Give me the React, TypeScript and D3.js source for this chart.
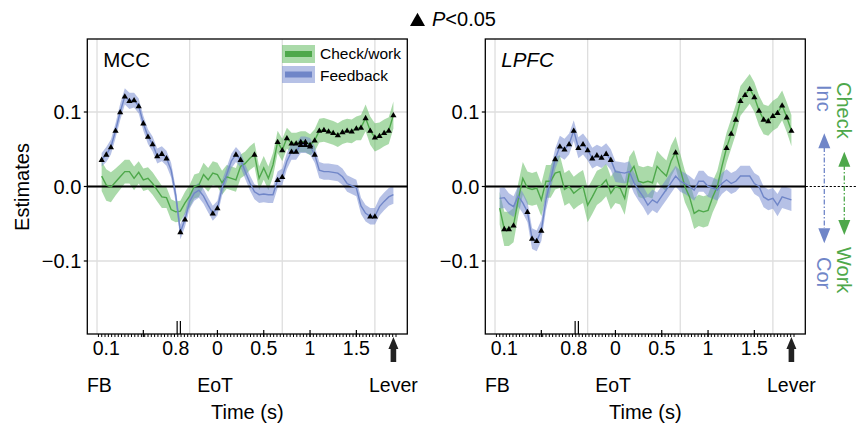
import * as d3 from 'd3'

const W = 856
const H = 428
const BOX = { left: 87.3, right: 407.3, top: 39, bottom: 334 }
const PANEL_DX = 398
const FONT = '"Liberation Sans", Arial, Helvetica, sans-serif'

const GREEN = '#4ea84b'
const GREEN_BAND = '#5cb85a'
const BLUE = '#7086c8'
const BLUE_BAND = '#7389cf'

// MCC, check/work regressor (mean and SE per time bin)
const mccCheck = [
  0.014, 0.002, -0.001, 0.006, 0.013, 0.020, 0.020, 0.011, 0.019, 0.009,
  0.011, 0.004, -0.005, -0.014, -0.015, -0.031, -0.034, -0.033, -0.022, -0.013,
  0.000, 0.002, 0.016, 0.009, 0.018, 0.016, 0.005, 0.013, 0.011, 0.009,
  0.027, 0.031, 0.038, 0.043, 0.011, 0.025, 0.011, 0.029, 0.060, 0.049,
  0.065, 0.058, 0.058, 0.060, 0.060, 0.056, 0.062, 0.075, 0.076, 0.074,
  0.072, 0.069, 0.073, 0.075, 0.074, 0.078, 0.079, 0.092, 0.075, 0.066,
  0.068, 0.072, 0.075, 0.096,
]
const mccCheckSe = [
  0.020, 0.021, 0.020, 0.018, 0.017, 0.016, 0.016, 0.016, 0.015, 0.015,
  0.015, 0.015, 0.015, 0.015, 0.014, 0.014, 0.014, 0.014, 0.015, 0.015,
  0.016, 0.016, 0.016, 0.016, 0.016, 0.016, 0.016, 0.016, 0.016, 0.016,
  0.016, 0.016, 0.016, 0.016, 0.016, 0.016, 0.016, 0.016, 0.015, 0.015,
  0.014, 0.014, 0.014, 0.014, 0.014, 0.014, 0.015, 0.016, 0.016, 0.016,
  0.016, 0.016, 0.016, 0.016, 0.016, 0.016, 0.017, 0.018, 0.019, 0.019,
  0.018, 0.018, 0.018, 0.018,
]
const mccCheckSig = [
  33, 38, 39, 40, 41, 42, 43, 44, 45, 46, 47, 48, 49, 50, 51, 52, 53, 54, 55,
  56, 57, 58, 59, 60, 61, 62, 63,
]

// MCC, feedback regressor
const mccFeedback = [
  0.036, 0.043, 0.053, 0.075, 0.100, 0.121, 0.115, 0.116, 0.108, 0.085,
  0.067, 0.057, 0.041, 0.044, 0.038, 0.022, -0.012, -0.061, -0.044, -0.020,
  -0.009, -0.005, -0.013, -0.025, -0.036, -0.029, -0.002, 0.016, 0.034, 0.043,
  0.036, 0.020, 0.005, -0.007, -0.011, -0.010, -0.011, -0.011, 0.009, 0.013,
  0.034, 0.047, 0.047, 0.056, 0.056, 0.054, 0.043, 0.022, 0.020, 0.020,
  0.019, 0.018, 0.013, 0.004, 0.001, -0.002, -0.026, -0.036, -0.040, -0.040,
  -0.027, -0.020, -0.014, -0.011,
]
const mccFeedbackSe = [
  0.009, 0.010, 0.010, 0.010, 0.011, 0.011, 0.011, 0.010, 0.010, 0.010,
  0.010, 0.010, 0.010, 0.010, 0.010, 0.010, 0.010, 0.010, 0.010, 0.010,
  0.010, 0.010, 0.010, 0.010, 0.010, 0.010, 0.010, 0.010, 0.010, 0.010,
  0.010, 0.010, 0.010, 0.010, 0.011, 0.011, 0.011, 0.011, 0.011, 0.011,
  0.011, 0.011, 0.011, 0.011, 0.011, 0.011, 0.011, 0.011, 0.011, 0.011,
  0.011, 0.011, 0.011, 0.011, 0.011, 0.011, 0.011, 0.011, 0.011, 0.011,
  0.012, 0.012, 0.012, 0.012,
]
const mccFeedbackSig = [
  0, 1, 2, 3, 4, 5, 6, 7, 8, 9, 10, 11, 12, 13, 14, 17, 18, 24, 25, 29, 30,
  38, 39, 41, 42, 43, 44, 45, 46, 58, 59,
]

// LPFC, check/work regressor
const lpfcCheck = [
  -0.029, -0.057, -0.057, -0.052, -0.018, 0.011, -0.002, -0.004, -0.002, -0.018,
  0.007, 0.007, 0.018, 0.020, -0.004, 0.000, -0.009, -0.004, 0.000, -0.025,
  -0.014, -0.002, 0.002, 0.009, -0.009, 0.000, -0.002, -0.016, 0.018, 0.027,
  0.007, 0.005, 0.007, 0.005, 0.027, 0.020, 0.014, 0.034, 0.046, 0.023,
  0.000, -0.014, -0.036, -0.032, -0.034, -0.032, -0.014, 0.000, 0.027, 0.052,
  0.071, 0.090, 0.115, 0.123, 0.131, 0.120, 0.102, 0.090, 0.088, 0.095,
  0.099, 0.109, 0.093, 0.075,
]
const lpfcCheckSe = [
  0.022, 0.023, 0.023, 0.023, 0.022, 0.022, 0.022, 0.022, 0.022, 0.022,
  0.022, 0.022, 0.022, 0.022, 0.022, 0.022, 0.022, 0.022, 0.022, 0.023,
  0.023, 0.023, 0.022, 0.022, 0.022, 0.022, 0.022, 0.022, 0.022, 0.022,
  0.021, 0.021, 0.021, 0.021, 0.021, 0.021, 0.021, 0.021, 0.021, 0.021,
  0.021, 0.021, 0.021, 0.021, 0.021, 0.021, 0.021, 0.021, 0.020, 0.020,
  0.020, 0.020, 0.020, 0.020, 0.020, 0.020, 0.020, 0.020, 0.020, 0.020,
  0.020, 0.020, 0.020, 0.021,
]
const lpfcCheckSig = [
  1, 2, 3, 38, 49, 50, 51, 52, 53, 54, 55, 56, 57, 58, 59, 60, 61, 62, 63,
]

// LPFC, feedback regressor
const lpfcFeedback = [
  -0.016, -0.015, -0.023, -0.027, -0.013, -0.022, -0.034, -0.070, -0.073, -0.059,
  -0.018, 0.009, 0.037, 0.054, 0.050, 0.057, 0.075, 0.052, 0.057, 0.049,
  0.038, 0.042, 0.039, 0.044, 0.036, 0.020, 0.019, 0.018, 0.020, 0.005,
  -0.005, -0.014, -0.025, -0.018, -0.022, -0.013, -0.004, 0.005, 0.014, 0.007,
  0.004, 0.000, -0.005, 0.007, 0.007, 0.000, -0.002, -0.005, 0.004, 0.009,
  0.004, 0.007, 0.014, 0.014, 0.014, 0.004, 0.000, -0.014, -0.018, -0.016,
  -0.025, -0.014, -0.016, -0.018,
]
const lpfcFeedbackSe = [
  0.014, 0.014, 0.014, 0.014, 0.014, 0.014, 0.014, 0.014, 0.014, 0.014,
  0.014, 0.014, 0.014, 0.014, 0.014, 0.014, 0.014, 0.014, 0.014, 0.014,
  0.014, 0.014, 0.014, 0.014, 0.014, 0.014, 0.014, 0.014, 0.014, 0.014,
  0.014, 0.014, 0.014, 0.014, 0.014, 0.014, 0.014, 0.014, 0.014, 0.014,
  0.014, 0.014, 0.014, 0.014, 0.014, 0.014, 0.014, 0.014, 0.014, 0.014,
  0.014, 0.014, 0.014, 0.014, 0.014, 0.014, 0.014, 0.014, 0.014, 0.014,
  0.015, 0.015, 0.015, 0.015,
]
const lpfcFeedbackSig = [
  6, 7, 8, 9, 12, 13, 14, 15, 16, 17, 18, 19, 20, 21, 22, 23, 24,
]

// x axis is in time-bin units (FB-aligned bins spliced to EoT-aligned bins)
const X_DOMAIN = [-3.1, 66]
const Y_DOMAIN = [-0.198, 0.198]
const xTickLabels = ['0.1', '0.8', '0', '0.5', '1', '1.5']
const xTickLabelBins = [1, 16, 25, 35, 45, 55]
const xMajorBins = [9, 25, 35, 45, 55]
const xBreakBins = [16.3, 17]
const xGridBins = [-1, 19, 39, 59]
const leverBin = 63
const eventLabels = ['FB', 'EoT', 'Lever']
const eventBins = [-0.5, 24.5, 63]
const yTicks = [0.1, 0, -0.1]
const yTickLabels = ['0.1', '0.0', '\u22120.1']

type Series = { mean: number[]; se: number[]; sig: number[] }

const TRI = 'M0,-3.1L3.1,2.2L-3.1,2.2Z'
const LABEL_SIZE = 19.5

function Panel({
  dx,
  title,
  italic,
  check,
  feedback,
  legend,
}: {
  dx: number
  title: string
  italic: boolean
  check: Series
  feedback: Series
  legend: boolean
}) {
  const x = d3.scaleLinear().domain(X_DOMAIN).range([BOX.left + dx, BOX.right + dx])
  const y = d3.scaleLinear().domain(Y_DOMAIN).range([BOX.bottom, BOX.top])

  const band = (s: Series) =>
    d3
      .area<number>()
      .x((_, i) => x(i))
      .y0((m, i) => y(m - s.se[i]))
      .y1((m, i) => y(m + s.se[i]))(s.mean) || ''
  const line = d3
    .line<number>()
    .x((_, i) => x(i))
    .y((m) => y(m))

  const minor = d3.range(-0.7, 63.7, 0.714)
  const x0 = BOX.left + dx
  const x1 = BOX.right + dx

  return (
    <g>
      {/* grid */}
      {xGridBins.map((b) => (
        <line key={'gx' + b} x1={x(b)} x2={x(b)} y1={BOX.top} y2={BOX.bottom} stroke="#dedede" strokeWidth={1.3} />
      ))}
      {yTicks.map((t) => (
        <line key={'gy' + t} x1={x0} x2={x1} y1={y(t)} y2={y(t)} stroke="#dedede" strokeWidth={1.3} />
      ))}

      {/* bands */}
      <path d={band(check)} fill={GREEN_BAND} fillOpacity={0.52} />
      <path d={band(feedback)} fill={BLUE_BAND} fillOpacity={0.52} />

      {/* zero line */}
      <line x1={x0} x2={x1} y1={y(0)} y2={y(0)} stroke="#000" strokeWidth={2} />

      {/* means */}
      <path d={line(check.mean) || ''} fill="none" stroke={GREEN} strokeWidth={1.4} />
      <path d={line(feedback.mean) || ''} fill="none" stroke={BLUE} strokeWidth={1.4} />

      {/* significance markers */}
      {check.sig.map((i) => (
        <path key={'cs' + i} d={TRI} transform={`translate(${x(i)},${y(check.mean[i])})`} fill="#000" />
      ))}
      {feedback.sig.map((i) => (
        <path key={'fs' + i} d={TRI} transform={`translate(${x(i)},${y(feedback.mean[i])})`} fill="#000" />
      ))}

      {/* frame */}
      <rect x={x0} y={BOX.top} width={x1 - x0} height={BOX.bottom - BOX.top} fill="none" stroke="#000" strokeWidth={1.3} />

      {/* y axis */}
      {yTicks.map((t, k) => (
        <g key={'yt' + t}>
          <line x1={x0 - 3.5} x2={x0} y1={y(t)} y2={y(t)} stroke="#000" strokeWidth={1.2} />
          <text x={x0 - 6} y={y(t)} dy="0.36em" textAnchor="end" fontSize={LABEL_SIZE + 0.5}>
            {yTickLabels[k]}
          </text>
        </g>
      ))}

      {/* x axis ticks */}
      {minor.map((b) => (
        <line key={'mn' + b} x1={x(b)} x2={x(b)} y1={BOX.bottom} y2={BOX.bottom + 3} stroke="#000" strokeWidth={1} />
      ))}
      {xMajorBins.map((b) => (
        <line key={'mj' + b} x1={x(b)} x2={x(b)} y1={BOX.bottom - 4} y2={BOX.bottom + 3} stroke="#000" strokeWidth={1.2} />
      ))}
      {xBreakBins.map((b) => (
        <line key={'br' + b} x1={x(b)} x2={x(b)} y1={BOX.bottom - 13} y2={BOX.bottom} stroke="#000" strokeWidth={1.2} />
      ))}
      {xTickLabels.map((l, k) => (
        <text key={'xl' + l} x={x(xTickLabelBins[k])} y={355} textAnchor="middle" fontSize={LABEL_SIZE}>
          {l}
        </text>
      ))}

      {/* lever arrow */}
      <path d={`M${x(leverBin)},${BOX.bottom + 3}l5,12h-2.2v13h-5.6v-13h-2.2Z`} fill="#222" />

      {/* event labels */}
      {eventLabels.map((l, k) => (
        <text key={'ev' + l} x={x(eventBins[k])} y={392} textAnchor="middle" fontSize={LABEL_SIZE}>
          {l}
        </text>
      ))}
      <text x={(x0 + x1) / 2} y={419} textAnchor="middle" fontSize={20}>
        Time (s)
      </text>

      {/* panel title */}
      <text x={x0 + 16} y={67} fontSize={20.5} fontStyle={italic ? 'italic' : 'normal'}>
        {title}
      </text>

      {legend && (
        <g>
          <rect x={282} y={45} width={33} height={18} fill={GREEN_BAND} fillOpacity={0.52} />
          <rect x={285} y={51} width={27} height={6} fill={GREEN} />
          <rect x={282} y={66} width={33} height={17} fill={BLUE_BAND} fillOpacity={0.52} />
          <rect x={285} y={71.5} width={27} height={6} fill={BLUE} />
          <text x={320} y={59} fontSize={15.5}>
            Check/work
          </text>
          <text x={320} y={80.5} fontSize={15.5}>
            Feedback
          </text>
        </g>
      )}
    </g>
  )
}

function SideKey({ y0 }: { y0: number }) {
  const bx = 824.3
  const gx = 844.3
  return (
    <g>
      <line x1={805.7} x2={856} y1={y0} y2={y0} stroke="#000" strokeWidth={1} strokeDasharray="2.2,1.8" />
      {/* blue arrow: Inc / Cor */}
      <line x1={bx} x2={bx} y1={147} y2={228} stroke={BLUE} strokeWidth={1.3} strokeDasharray="5,2,1.5,2" />
      <path d={`M${bx},133.3l6,15h-12Z`} fill={BLUE} />
      <path d={`M${bx},243.3l6,-15h-12Z`} fill={BLUE} />
      {/* green arrow: Check / Work */}
      <line x1={gx} x2={gx} y1={165} y2={220} stroke={GREEN} strokeWidth={1.3} strokeDasharray="5,2,1.5,2" />
      <path d={`M${gx},151.7l6,15h-12Z`} fill={GREEN} />
      <path d={`M${gx},235l6,-15h-12Z`} fill={GREEN} />
      <text transform={`translate(${bx - 7.5},85) rotate(90)`} fontSize={20} fill={BLUE}>
        Inc
      </text>
      <text transform={`translate(${bx - 7.5},257) rotate(90)`} fontSize={20} fill={BLUE}>
        Cor
      </text>
      <text transform={`translate(${gx - 7.5},82) rotate(90)`} fontSize={20} fill={GREEN}>
        Check
      </text>
      <text transform={`translate(${gx - 7.5},247) rotate(90)`} fontSize={20} fill={GREEN}>
        Work
      </text>
    </g>
  )
}

export default function App() {
  const y = d3.scaleLinear().domain(Y_DOMAIN).range([BOX.bottom, BOX.top])
  return (
    <svg
      width={W}
      height={H}
      viewBox={`0 0 ${W} ${H}`}
      style={{ position: 'absolute', left: 0, top: 0, background: '#fff' }}
      fontFamily={FONT}
    >
      <rect width={W} height={H} fill="#fff" />
      {/* significance key */}
      <path d="M417.5,12.7L425,26H410Z" fill="#000" />
      <text x={432} y={26} fontSize={20}>
        <tspan fontStyle="italic">P</tspan>&lt;0.05
      </text>

      <text transform={`translate(29,187) rotate(-90)`} textAnchor="middle" fontSize={20}>
        Estimates
      </text>

      <Panel
        dx={0}
        title="MCC"
        italic={false}
        check={{ mean: mccCheck, se: mccCheckSe, sig: mccCheckSig }}
        feedback={{ mean: mccFeedback, se: mccFeedbackSe, sig: mccFeedbackSig }}
        legend
      />
      <Panel
        dx={PANEL_DX}
        title="LPFC"
        italic
        check={{ mean: lpfcCheck, se: lpfcCheckSe, sig: lpfcCheckSig }}
        feedback={{ mean: lpfcFeedback, se: lpfcFeedbackSe, sig: lpfcFeedbackSig }}
        legend={false}
      />
      <SideKey y0={y(0)} />
    </svg>
  )
}
